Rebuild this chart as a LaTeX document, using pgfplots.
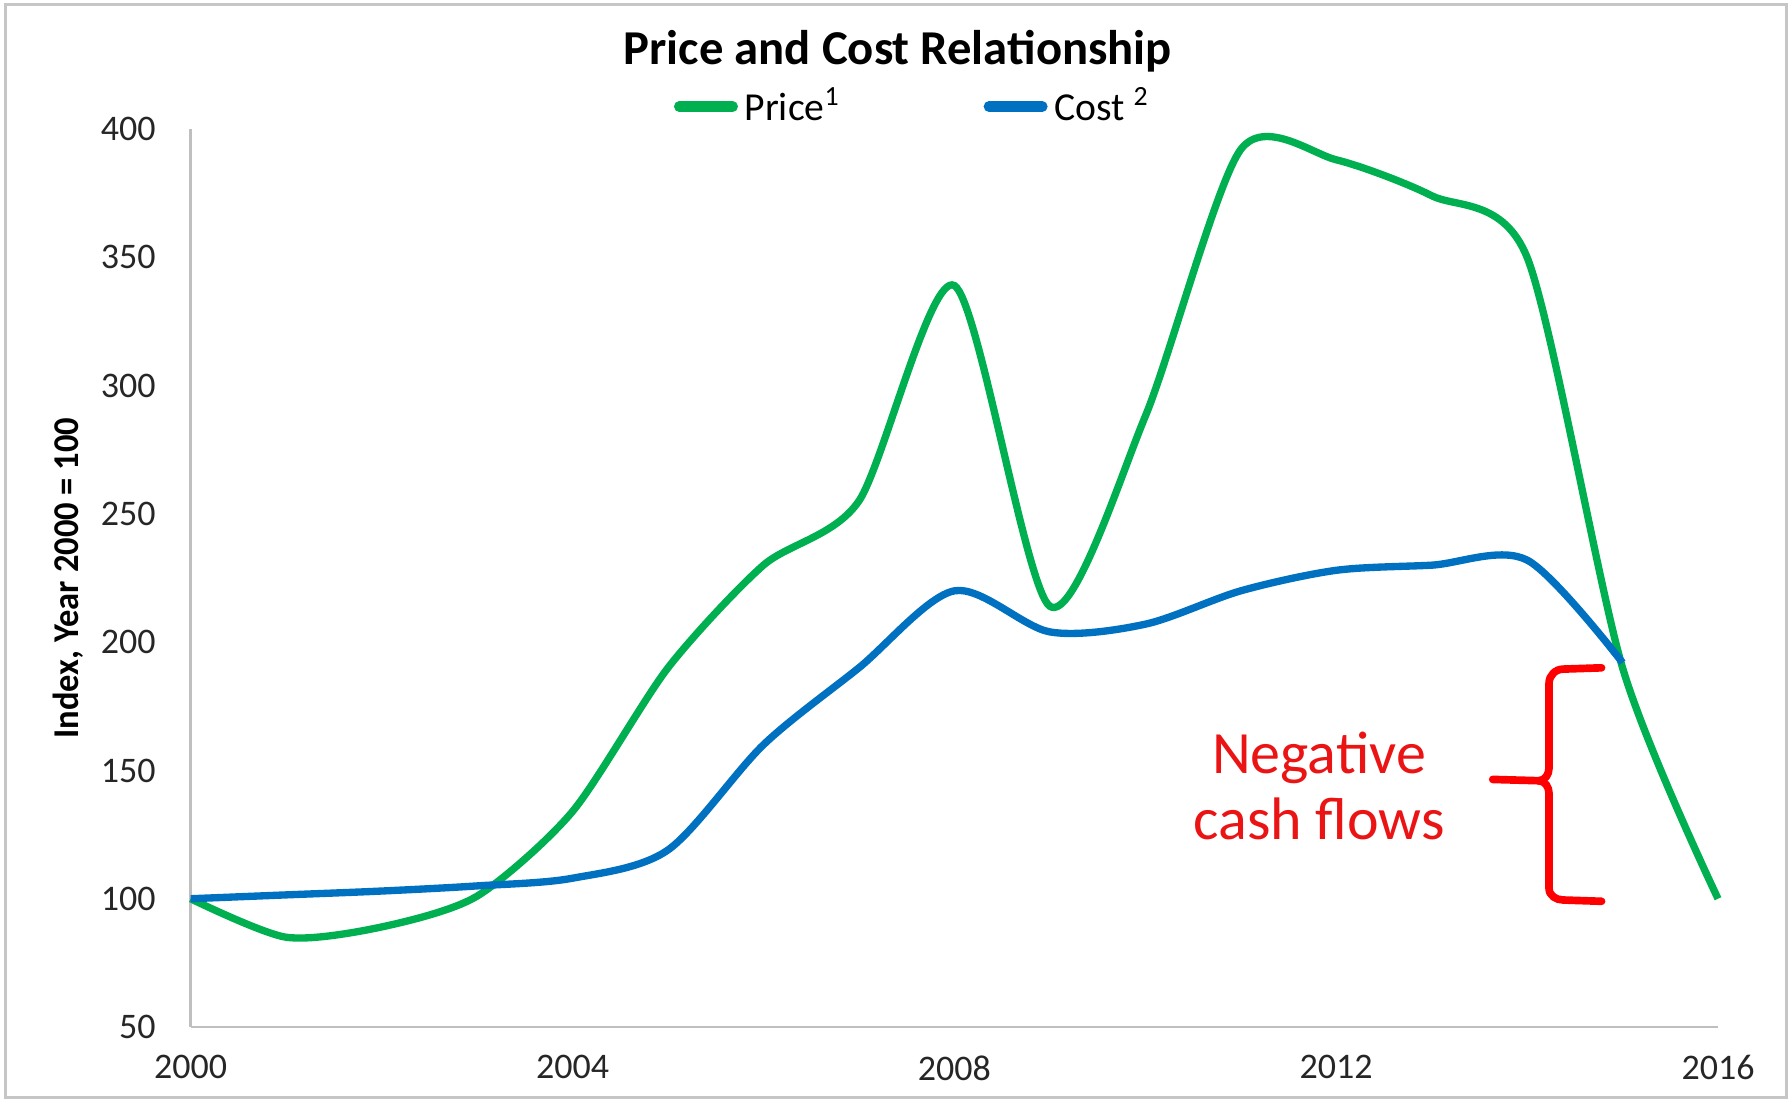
\documentclass[border=0pt]{standalone}
\usepackage{fontspec}
\setmainfont{Carlito}
\usepackage{pgfplots}
\pgfplotsset{compat=1.18}
\definecolor{pgreen}{RGB}{0,176,80}
\definecolor{cblue}{RGB}{0,112,192}
\definecolor{axgray}{RGB}{191,191,191}
\definecolor{annred}{RGB}{235,20,20}
\begin{document}
\begin{tikzpicture}
\useasboundingbox (-57.2pt,-22.2pt) rectangle (479.8pt,308.1pt);
\draw[gray!45, line width=0.9pt] (-55.5pt,-21pt) rectangle (478.6pt,306.8pt);
\begin{axis}[
  at={(0,0)}, anchor=south west,
  scale only axis, width=458.2pt, height=269.4pt,
  xmin=2000, xmax=2016, ymin=50, ymax=400,
  axis x line*=bottom, axis y line*=left,
  axis line style={axgray, line width=0.8pt, -},
  xtick={2000,2004,2008,2012,2016},
  xticklabels={2000,2004,2008,2012,2016},
  ytick={50,100,150,200,250,300,350,400},
  yticklabels={50,100,150,200,250,300,350,400},
  major tick length=0pt,
  xticklabel style={font=\fontsize{10.8}{12}\selectfont, yshift=-5pt, text=black!85},
  yticklabel style={font=\fontsize{10.8}{12}\selectfont, xshift=-7pt, text=black!85},
  ylabel={\scalebox{0.95}[1]{Index, Year 2000 = 100}},
  ylabel style={font=\fontsize{10.9}{11}\selectfont\bfseries, at={(rel axis cs:-0.08,0.5)}, anchor=center},
  clip=false,
  legend columns=2,
  legend style={at={(rel axis cs:0.316,1.025)}, anchor=west, draw=none, fill=none,
    font=\fontsize{11.9}{13}\selectfont, inner sep=0pt,
    /tikz/every even column/.append style={column sep=41pt}},
  legend image code/.code={\draw[#1, line width=3.2pt, line cap=round] (0pt,0pt) -- (16pt,0pt);},
]
\addplot[pgreen, line width=2.2pt, smooth, tension=0.45] coordinates {
(2000,100) (2001,85) (2002,89) (2003,101) (2004,134) (2005,190) (2006,230) (2007,255)
(2008,339) (2009,214) (2010,288) (2011,392) (2012,388) (2013,374) (2014,350) (2015,190) (2016,100)};
\addlegendentry{Price\textsuperscript{1}}
\addplot[cblue, line width=2.2pt, smooth, tension=0.5] coordinates {
(2000,100) (2001,101.5) (2002,103) (2003,105) (2004,108) (2005,119) (2006,160) (2007,190)
(2008,220) (2009,204) (2010,207) (2011,220) (2012,228) (2013,230) (2014,232) (2015,192)};
\addlegendentry{Cost \textsuperscript{2}}
\node[font=\fontsize{14.6}{16}\selectfont\bfseries] at (rel axis cs:0.463,1.087) {Price and Cost Relationship};
\node[annred, font=\fontsize{18}{20}\selectfont, align=center] at (axis cs:2011.82,144) {Negative\\cash flows};
\draw[red, line width=2.3pt, line join=round, line cap=round]
  (axis cs:2014.78,190) -- (axis cs:2014.38,189.5) to[out=180,in=90] (axis cs:2014.23,184)
  -- (axis cs:2014.23,151) to[out=-90,in=0] (axis cs:2014.12,146) -- (axis cs:2013.64,146.5);
\draw[red, line width=2.3pt, line join=round, line cap=round]
  (axis cs:2014.12,146) to[out=0,in=90] (axis cs:2014.23,141)
  -- (axis cs:2014.23,104) to[out=-90,in=180] (axis cs:2014.38,99.5) -- (axis cs:2014.78,99);
\end{axis}
\end{tikzpicture}
\end{document}
